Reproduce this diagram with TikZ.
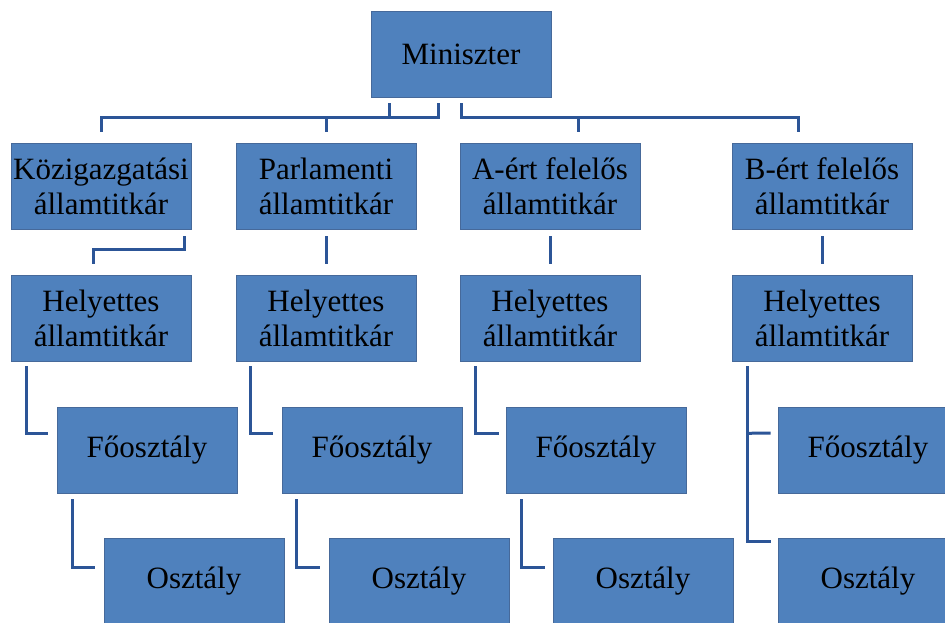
\documentclass[tikz,border=0pt]{standalone}
\usepackage{fontspec}
\setmainfont{Liberation Serif}
\usetikzlibrary{calc}
\definecolor{boxblue}{HTML}{4F81BD}
\definecolor{boxedge}{HTML}{46699A}
\definecolor{connblue}{HTML}{2C5597}
\begin{document}
\begin{tikzpicture}[x=1pt,y=-1pt,
  orgbox/.style={draw=boxedge, fill=boxblue, line width=0.6pt,
    minimum width=180pt, minimum height=86pt, inner sep=0pt,
    align=center, text=black, font=\fontsize{31}{35}\selectfont},
  conn/.style={draw=connblue, line width=3pt, line cap=butt, line join=miter}]
\useasboundingbox (0,0) rectangle (945,623);
\fill[white] (0,0) rectangle (945,623);
% top
\node[orgbox] (min) at (461,54) {Miniszter};
% row 2
\node[orgbox] (k1) at (101,186) {Közigazgatási\\államtitkár};
\node[orgbox] (p1) at (326,186) {Parlamenti\\államtitkár};
\node[orgbox] (a1) at (550,186) {A-ért felelős\\államtitkár};
\node[orgbox] (b1) at (822,186) {B-ért felelős\\államtitkár};
% row 3
\node[orgbox] (k2) at (101,318) {Helyettes\\államtitkár};
\node[orgbox] (p2) at (326,318) {Helyettes\\államtitkár};
\node[orgbox] (a2) at (550,318) {Helyettes\\államtitkár};
\node[orgbox] (b2) at (822,318) {Helyettes\\államtitkár};
% row 4
\node[orgbox] (k3) at (147,450) {Főosztály};
\node[orgbox] (p3) at (372,450) {Főosztály};
\node[orgbox] (a3) at (596,450) {Főosztály};
\node[orgbox] (b3) at (868,450) {Főosztály};
% row 5
\node[orgbox] (k4) at (194,581) {Osztály};
\node[orgbox] (p4) at (419,581) {Osztály};
\node[orgbox] (a4) at (643,581) {Osztály};
\node[orgbox] (b4) at (868,581) {Osztály};
% bus from Miniszter
\draw[conn] ($(min.south west)+(19,6)$) -- ++(0,14);
\draw[conn] ($(min.south)+(-23,6)$) -- ++(0,14) -| ($(k1.north)+(0,-11)$);
\draw[conn] ($(p1.north)+(0,-26)$) -- ($(p1.north)+(0,-11)$);
\draw[conn] ($(min.south)+(0,6)$) -- ++(0,14) -| ($(b1.north)+(-24,-11)$);
\draw[conn] ($(a1.north)+(28,-26)$) -- ($(a1.north)+(28,-11)$);
% row 2 -> row 3
\draw[conn] ($(k1.south east)+(-7,7)$) -- ++(0,13) -| ($(k2.north)+(-8,-11)$);
\draw[conn] ($(p1.south)+(0,7)$) -- ($(p2.north)+(0,-11)$);
\draw[conn] ($(a1.south)+(0,7)$) -- ($(a2.north)+(0,-11)$);
\draw[conn] ($(b1.south)+(0,7)$) -- ($(b2.north)+(0,-11)$);
% row 3 -> row 4
\draw[conn] ($(k2.south west)+(16,5)$) |- ($(k3.west)+(-9,-17)$);
\draw[conn] ($(p2.south west)+(15,5)$) |- ($(p3.west)+(-9,-17)$);
\draw[conn] ($(a2.south west)+(16,5)$) |- ($(a3.west)+(-7,-17)$);
\draw[conn] ($(b2.south west)+(16,5)$) |- ($(b4.north west)+(-7,4)$);
\draw[conn] ($(b2.south west)+(16,72)$) -- ($(b3.west)+(-7,-17)$);
% row 4 -> row 5
\draw[conn] ($(k3.south west)+(16,6)$) |- ($(k4.west)+(-9,-14)$);
\draw[conn] ($(p3.south west)+(15,6)$) |- ($(p4.west)+(-9,-14)$);
\draw[conn] ($(a3.south west)+(16,6)$) |- ($(a4.west)+(-8,-14)$);
\end{tikzpicture}
\end{document}
